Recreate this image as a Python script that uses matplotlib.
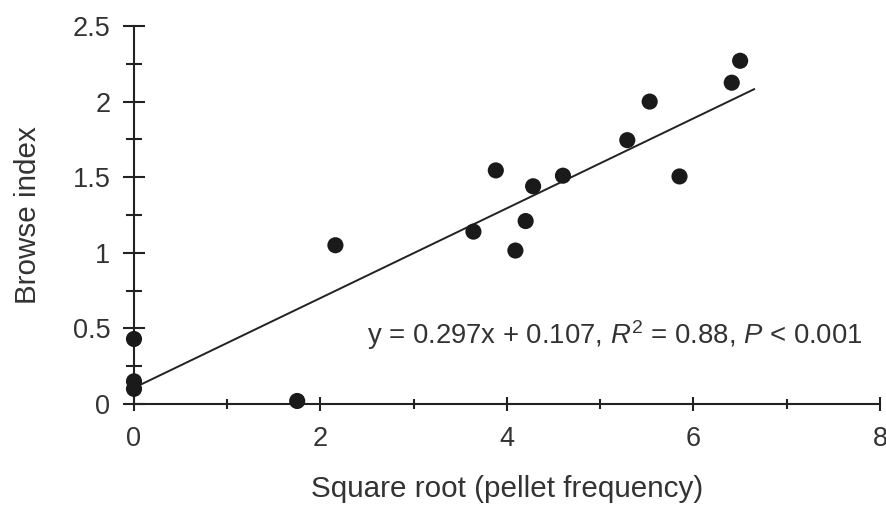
import matplotlib
matplotlib.use("Agg")
import matplotlib.pyplot as plt
import numpy as np

plt.rcParams['font.family'] = ['Liberation Sans', 'DejaVu Sans']
plt.rcParams['mathtext.fontset'] = 'custom'
plt.rcParams['mathtext.rm'] = 'Liberation Sans'
plt.rcParams['mathtext.it'] = 'Liberation Sans:italic'

# Data
x_vals = [0.0, 0.0, 0.0, 1.75, 2.16, 3.64, 3.88, 4.09, 4.20, 4.28, 4.60, 5.29, 5.53, 5.85, 6.41, 6.50]
y_vals = [0.43, 0.15, 0.10, 0.02, 1.05, 1.14, 1.545, 1.015, 1.21, 1.44, 1.51, 1.745, 2.0, 1.505, 2.125, 2.27]
slope = 0.297
intercept = 0.107
fit_x_range = [0.0, 6.65]
x_ticks = [0, 2, 4, 6, 8]
y_ticks = [0, 0.5, 1, 1.5, 2, 2.5]
y_tick_labels = ['0', '0.5', '1', '1.5', '2', '2.5']
annotation = r"y = 0.297x + 0.107, $\mathit{R}^{2}$ = 0.88, $\mathit{P}$ < 0.001"

ink = '#222222'
txt = '#333333'

fig = plt.figure(figsize=(8.87, 5.07), dpi=100)
ax = fig.add_axes([134/887, 1 - 404/507, (880 - 134)/887, (404 - 26)/507])

fx = np.array(fit_x_range)
ax.plot(fx, slope * fx + intercept, color=ink, lw=1.4, clip_on=False, zorder=2)
ax.scatter(x_vals, y_vals, s=135, color='#1a1a1a', edgecolors='none', clip_on=False, zorder=3)

ax.set_xlim(0, 8)
ax.set_ylim(0, 2.5)
for s in ['top', 'right']:
    ax.spines[s].set_visible(False)
for s in ['left', 'bottom']:
    ax.spines[s].set_color(ink)
    ax.spines[s].set_linewidth(1.5)

ax.set_xticks(x_ticks)
ax.set_xticks([1, 3, 5, 7], minor=True)
ax.set_yticks(y_ticks)
ax.set_yticklabels(y_tick_labels)
ax.set_yticks([0.25, 0.75, 1.25, 1.75, 2.25], minor=True)

ax.tick_params(axis='x', which='major', direction='inout', length=10, width=1.5, color=ink,
               labelsize=19.5, labelcolor=txt, pad=11)
ax.tick_params(axis='x', which='minor', direction='inout', length=7, width=1.5, color=ink)
ax.tick_params(axis='y', which='major', direction='inout', length=16, width=1.5, color=ink,
               labelsize=19.5, labelcolor=txt, pad=9)
ax.tick_params(axis='y', which='minor', direction='inout', length=12, width=1.5, color=ink)

ax.set_xlabel('Square root (pellet frequency)', fontsize=21.3, color=txt, labelpad=16.5)
ax.set_ylabel('Browse index', fontsize=21.3, color=txt, labelpad=22)

ax.text(2.5, 0.455, annotation, fontsize=19.8, color=txt, ha='left', va='center')

fig.savefig('out.png', dpi=100)
